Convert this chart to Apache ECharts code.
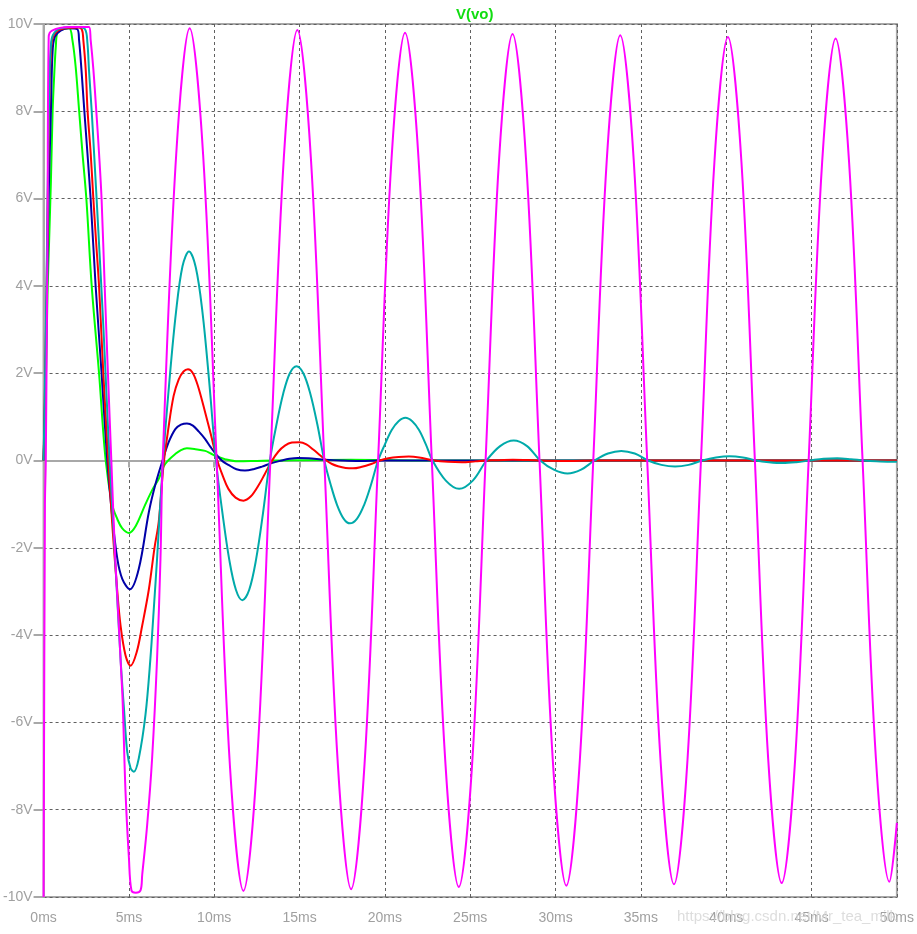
<!DOCTYPE html>
<html>
<head>
<meta charset="utf-8">
<script src="https://cdn.jsdelivr.net/npm/echarts@6/dist/echarts.min.js"></script>
<style>
html,body{margin:0;padding:0;background:#fff;}
#chart{width:917px;height:934px;}
</style>
</head>
<body>
<div id="chart"></div>
<script>
const chartTitle = 'V(vo)';
const watermark = 'https://blog.csdn.net/Mr_tea_milk';
const xUnit = 'ms';
const yUnit = 'V';
const xRange = [0, 50, 5];
const yRange = [-10, 10, 2];

// [time ms, volts]
const greenTrace = [[0,0],[0.1,1.3],[0.17,2.5],[0.23,3.8],[0.33,5.1],[0.43,6.4],[0.53,8.0],[0.62,8.8],[0.72,9.5],[0.82,9.82],[1.11,9.88],[1.5,9.9],[1.69,9.63],[1.88,9.02],[2.08,8.03],[2.28,7.04],[2.51,5.98],[2.82,4.0],[3.25,2.0],[3.64,0],[4.03,-1.03],[4.32,-1.34],[4.6,-1.55],[5.0,-1.66],[5.4,-1.5],[5.97,-1.0],[6.4,-0.65],[6.75,-0.42],[7.04,-0.13],[7.3,0.0],[7.72,0.15],[8.05,0.24],[8.4,0.28],[8.9,0.26],[9.47,0.22],[9.8,0.16],[10.11,0.1],[10.63,0.03],[11.4,-0.02],[12.5,-0.01],[13.5,0],[18,0.02],[22,0],[50,0]];
const blueTrace = [[0,0],[0.1,1.6],[0.17,3.2],[0.25,5.1],[0.33,6.6],[0.43,8.0],[0.52,9.3],[0.65,9.7],[1.0,9.85],[1.5,9.9],[1.98,9.88],[2.08,9.63],[2.22,8.95],[2.39,8.0],[2.57,7.04],[2.76,5.98],[3.05,4.0],[3.4,2.0],[3.73,0],[4.0,-1.2],[4.32,-2.25],[4.61,-2.71],[5.06,-2.95],[5.58,-2.48],[6.17,-1.18],[6.55,-0.55],[6.94,-0.04],[7.33,0.42],[7.72,0.72],[8.05,0.82],[8.4,0.85],[8.75,0.8],[9.1,0.66],[9.47,0.49],[9.8,0.3],[10.15,0.12],[10.5,-0.02],[10.83,-0.1],[11.3,-0.2],[11.8,-0.23],[12.3,-0.2],[12.8,-0.14],[13.36,-0.06],[13.94,0],[14.4,0.04],[14.9,0.06],[15.5,0.05],[16.5,0.02],[17.5,0],[18.5,-0.01],[20,0],[50,0]];
const redTrace = [[0,0],[0.1,2.0],[0.18,4.0],[0.27,6.6],[0.35,8.5],[0.43,9.3],[0.55,9.7],[1.0,9.88],[2.0,9.92],[2.24,9.88],[2.33,9.63],[2.47,8.95],[2.58,8.0],[2.76,7.04],[2.92,5.98],[3.08,5.0],[3.25,4.0],[3.5,2.0],[3.79,0],[4.05,-1.6],[4.3,-2.9],[4.51,-3.78],[4.8,-4.46],[5.1,-4.7],[5.45,-4.4],[5.78,-3.78],[6.17,-2.95],[6.5,-2.0],[6.75,-1.4],[7.03,-0.1],[7.3,0.7],[7.62,1.48],[7.92,1.86],[8.2,2.04],[8.46,2.09],[8.75,2.0],[9.05,1.7],[9.47,1.1],[9.8,0.6],[10.18,0],[10.5,-0.35],[10.83,-0.65],[11.25,-0.85],[11.71,-0.92],[12.15,-0.82],[12.58,-0.58],[12.95,-0.32],[13.36,-0.02],[13.75,0.2],[14.14,0.34],[14.55,0.41],[15.0,0.42],[15.4,0.37],[15.8,0.25],[16.2,0.12],[16.57,0],[16.9,-0.08],[17.25,-0.13],[17.7,-0.17],[18.13,-0.18],[18.6,-0.15],[19.2,-0.08],[19.7,0],[20.2,0.05],[20.8,0.08],[21.4,0.09],[22.0,0.07],[22.9,0],[23.7,-0.03],[24.5,-0.04],[25.3,-0.02],[26.0,0],[27.5,0.02],[29,0],[30.7,-0.01],[32.3,0],[50,0]];
const cyanTrace = [[0,0],[0.1,2.2],[0.18,4.3],[0.27,7.0],[0.35,8.8],[0.43,9.5],[0.55,9.75],[1.0,9.9],[2.0,9.93],[2.43,9.88],[2.57,9.56],[2.66,8.95],[2.82,8.0],[2.96,7.04],[3.11,5.98],[3.3,4.6],[3.5,3.1],[3.7,1.4],[3.87,0],[4.2,-2.3],[4.51,-4.54],[4.71,-5.68],[4.9,-6.67],[5.1,-7.05],[5.29,-7.13],[5.58,-6.82],[5.97,-5.83],[6.26,-4.54],[6.46,-3.39],[6.65,-2.25],[7.0,0],[7.38,1.85],[7.76,3.4],[8.14,4.45],[8.52,4.79],[8.92,4.42],[9.31,3.4],[9.7,1.83],[10.1,0],[10.49,-1.23],[10.88,-2.27],[11.27,-2.96],[11.65,-3.2],[12.05,-2.96],[12.45,-2.27],[12.85,-1.23],[13.26,0],[13.65,0.83],[14.04,1.53],[14.43,2.0],[14.82,2.16],[15.22,2.0],[15.63,1.53],[16.04,0.83],[16.45,0],[16.82,-0.55],[17.2,-1.02],[17.58,-1.33],[17.95,-1.44],[18.37,-1.33],[18.78,-1.02],[19.19,-0.55],[19.6,0],[20.0,0.37],[20.4,0.7],[20.8,0.9],[21.2,0.98],[21.6,0.9],[22.0,0.7],[22.4,0.37],[22.79,0],[23.57,-0.46],[24.35,-0.65],[25.15,-0.46],[25.95,0],[26.75,0.33],[27.55,0.46],[28.33,0.33],[29.1,0],[29.9,-0.21],[30.7,-0.3],[31.5,-0.21],[32.28,0],[33.07,0.16],[33.85,0.22],[34.64,0.16],[35.42,0],[36.2,-0.1],[37.0,-0.14],[37.8,-0.1],[38.6,0],[39.4,0.07],[40.2,0.1],[40.98,0.07],[41.75,0],[42.5,-0.04],[43.3,-0.06],[44.1,-0.04],[44.9,0],[45.7,0.04],[46.5,0.05],[47.3,0.03],[48.05,0],[48.8,-0.02],[49.6,-0.03],[50,-0.03]];
const magentaTrace = [[0,-10],[0.08,-1],[0.13,0],[0.23,5.1],[0.3,9.7],[0.5,9.85],[1.5,9.93],[2.66,9.93],[2.76,9.63],[2.92,8.95],[3.09,8.0],[3.25,7.04],[3.4,5.98],[3.58,4.0],[3.77,2.0],[3.97,0],[4.2,-2.25],[4.61,-5.3],[4.8,-7.58],[5.0,-9.1],[5.15,-9.85],[5.4,-9.9],[5.68,-9.85],[5.78,-9.49],[6.07,-8.35],[6.36,-6.82],[6.65,-4.54],[6.85,-2.25],[6.98,0],[7.77,7.0],[8.56,9.9],[9.35,7.0],[10.14,0],[10.92,-7.0],[11.71,-9.86],[12.5,-6.97],[13.29,0],[14.08,6.95],[14.87,9.86],[15.66,6.95],[16.45,0],[17.24,-6.94],[18.02,-9.82],[18.81,-6.94],[19.6,0],[20.39,6.92],[21.18,9.8],[21.97,6.92],[22.75,0],[23.54,-6.9],[24.33,-9.77],[25.12,-6.9],[25.9,0],[26.69,6.9],[27.48,9.77],[28.27,6.9],[29.06,0],[29.84,-6.88],[30.63,-9.74],[31.42,-6.88],[32.21,0],[33.0,6.88],[33.79,9.74],[34.58,6.88],[35.37,0],[36.15,-6.86],[36.94,-9.71],[37.73,-6.86],[38.52,0],[39.31,6.85],[40.1,9.7],[40.89,6.85],[41.68,0],[42.46,-6.84],[43.25,-9.68],[44.04,-6.84],[44.83,0],[45.62,6.83],[46.41,9.67],[47.2,6.83],[47.99,0],[48.77,-6.82],[49.56,-9.65],[50,-8.3]];

const traces = [
  {name:'green', color:'#00ff00', data:greenTrace},
  {name:'blue', color:'#0000a8', data:blueTrace},
  {name:'red', color:'#ff0000', data:redTrace},
  {name:'cyan', color:'#00aaaa', data:cyanTrace},
  {name:'magenta', color:'#ff00ff', data:magentaTrace}
];

const chart = echarts.init(document.getElementById('chart'), null, {renderer:'canvas'});
const axisGray = '#a8a8a8';
const labelGray = '#a0a0a0';
const labelFont = {color:labelGray, fontFamily:'"Liberation Sans", Arial, sans-serif', fontSize:14};

chart.setOption({
  backgroundColor:'#ffffff',
  animation:false,
  title:{
    text:chartTitle, left:451, top:2,
    textStyle:{color:'#11dd11', fontFamily:'"Liberation Sans", Arial, sans-serif', fontSize:15, fontWeight:'bold'}
  },
  grid:{left:41, right:19, top:24, bottom:37, show:true, borderColor:axisGray, borderWidth:2, backgroundColor:'#ffffff', containLabel:false},
  xAxis:{
    type:'value', min:xRange[0], max:xRange[1], interval:xRange[2],
    axisLine:{show:true, lineStyle:{color:axisGray, width:2}},
    axisTick:{show:true, length:7, lineStyle:{color:axisGray, width:2}},
    axisLabel:Object.assign({margin:14, formatter:v=>v+xUnit}, labelFont),
    splitLine:{show:true, lineStyle:{color:'#606060', width:1, type:[3,3]}}
  },
  yAxis:{
    type:'value', min:yRange[0], max:yRange[1], interval:yRange[2],
    axisLine:{show:true, lineStyle:{color:axisGray, width:2}},
    axisTick:{show:true, length:10, lineStyle:{color:axisGray, width:2}},
    axisLabel:Object.assign({margin:11, formatter:v=>v+yUnit}, labelFont),
    splitLine:{show:true, lineStyle:{color:'#606060', width:1, type:[3,3]}}
  },
  series:traces.map(t=>({
    name:t.name, type:'line', data:t.data, showSymbol:false, smooth:0.35,
    lineStyle:{color:t.color, width:2}, itemStyle:{color:t.color}, clip:true
  })),
  graphic:[{
    type:'text', left:677, top:909, z:100,
    style:{text:watermark, fill:'rgba(215,215,215,0.85)', font:'15px "Liberation Sans", Arial, sans-serif'}
  }]
});
</script>
</body>
</html>
